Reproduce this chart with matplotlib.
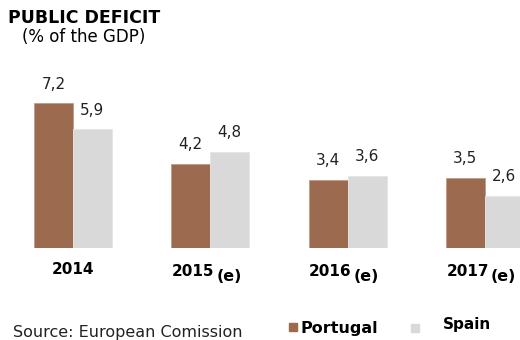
import matplotlib.pyplot as plt
import numpy as np
from matplotlib.patches import Rectangle

# dados do défice público (% do PIB)
years = ["2014", "2015", "2016", "2017"]
estimate = ["", "(e)", "(e)", "(e)"]
portugal = [7.2, 4.2, 3.4, 3.5]
spain = [5.9, 4.8, 3.6, 2.6]

brown = "#9C6A4E"
grey = "#D9D9D9"

plt.rcParams['font.family'] = ['DejaVu Sans']

W, H = 520, 340
fig = plt.figure(figsize=(W / 100, H / 100), dpi=100)

# eixo ocupa toda a largura; base das barras a 92 px do fundo
ax = fig.add_axes([0, 92 / H, 1, 188 / H])
x = np.arange(len(years))
bw = 0.284
ax.set_xlim(-73 / 137.3, 447 / 137.3)
ax.set_ylim(0, 188 / 20.1)
ax.axis('off')

b1 = ax.bar(x - bw / 2, portugal, bw, color=brown, edgecolor="#C09A84", linewidth=0.6)
b2 = ax.bar(x + bw / 2, spain, bw, color=grey, edgecolor="#E6E6E6", linewidth=0.6)

for bars, vals in ((b1, portugal), (b2, spain)):
    for r, v in zip(bars, vals):
        ax.annotate(f"{v:.1f}".replace(".", ","),
                    (r.get_x() + r.get_width() / 2, v),
                    xytext=(0, 13.5), textcoords="offset points",
                    ha="center", va="center", fontsize=11, color="#222222")

# rótulos dos anos, com o "(e)" ligeiramente abaixo
for xi, yr, est in zip(x, years, estimate):
    if est:
        ax.annotate(yr, (xi, 0), xytext=(3, -17), textcoords="offset points",
                    ha="right", va="center", fontsize=11, fontweight="bold")
        ax.annotate(est, (xi, 0), xytext=(4.2, -20.5), textcoords="offset points",
                    ha="left", va="center", fontsize=11.5, fontweight="bold")
    else:
        ax.annotate(yr, (xi, 0), xytext=(0, -15.5), textcoords="offset points",
                    ha="center", va="center", fontsize=11, fontweight="bold")

fig.text(8 / W, 1 - 18 / H, "PUBLIC DEFICIT", fontsize=12.5, fontweight="bold",
         ha="left", va="center")
fig.text(22 / W, 1 - 37 / H, "(% of the GDP)", fontsize=12,
         ha="left", va="center")

fig.text(13 / W, 1 - 333 / H, "Source: European Comission", fontsize=11.5,
         ha="left", va="center", color="#222222")

# legenda manual
fig.patches.append(Rectangle((289 / W, 1 - 331 / H), 8 / W, 8 / H,
                             transform=fig.transFigure, color=brown))
fig.text(300 / W, 1 - 328 / H, "Portugal", fontsize=11.5, fontweight="bold",
         ha="left", va="center")
fig.patches.append(Rectangle((411 / W, 1 - 332 / H), 8 / W, 8 / H,
                             transform=fig.transFigure, color=grey))
fig.text(443 / W, 1 - 325 / H, "Spain", fontsize=11, fontweight="bold",
         ha="left", va="center")

fig.savefig("out.png", dpi=100)
